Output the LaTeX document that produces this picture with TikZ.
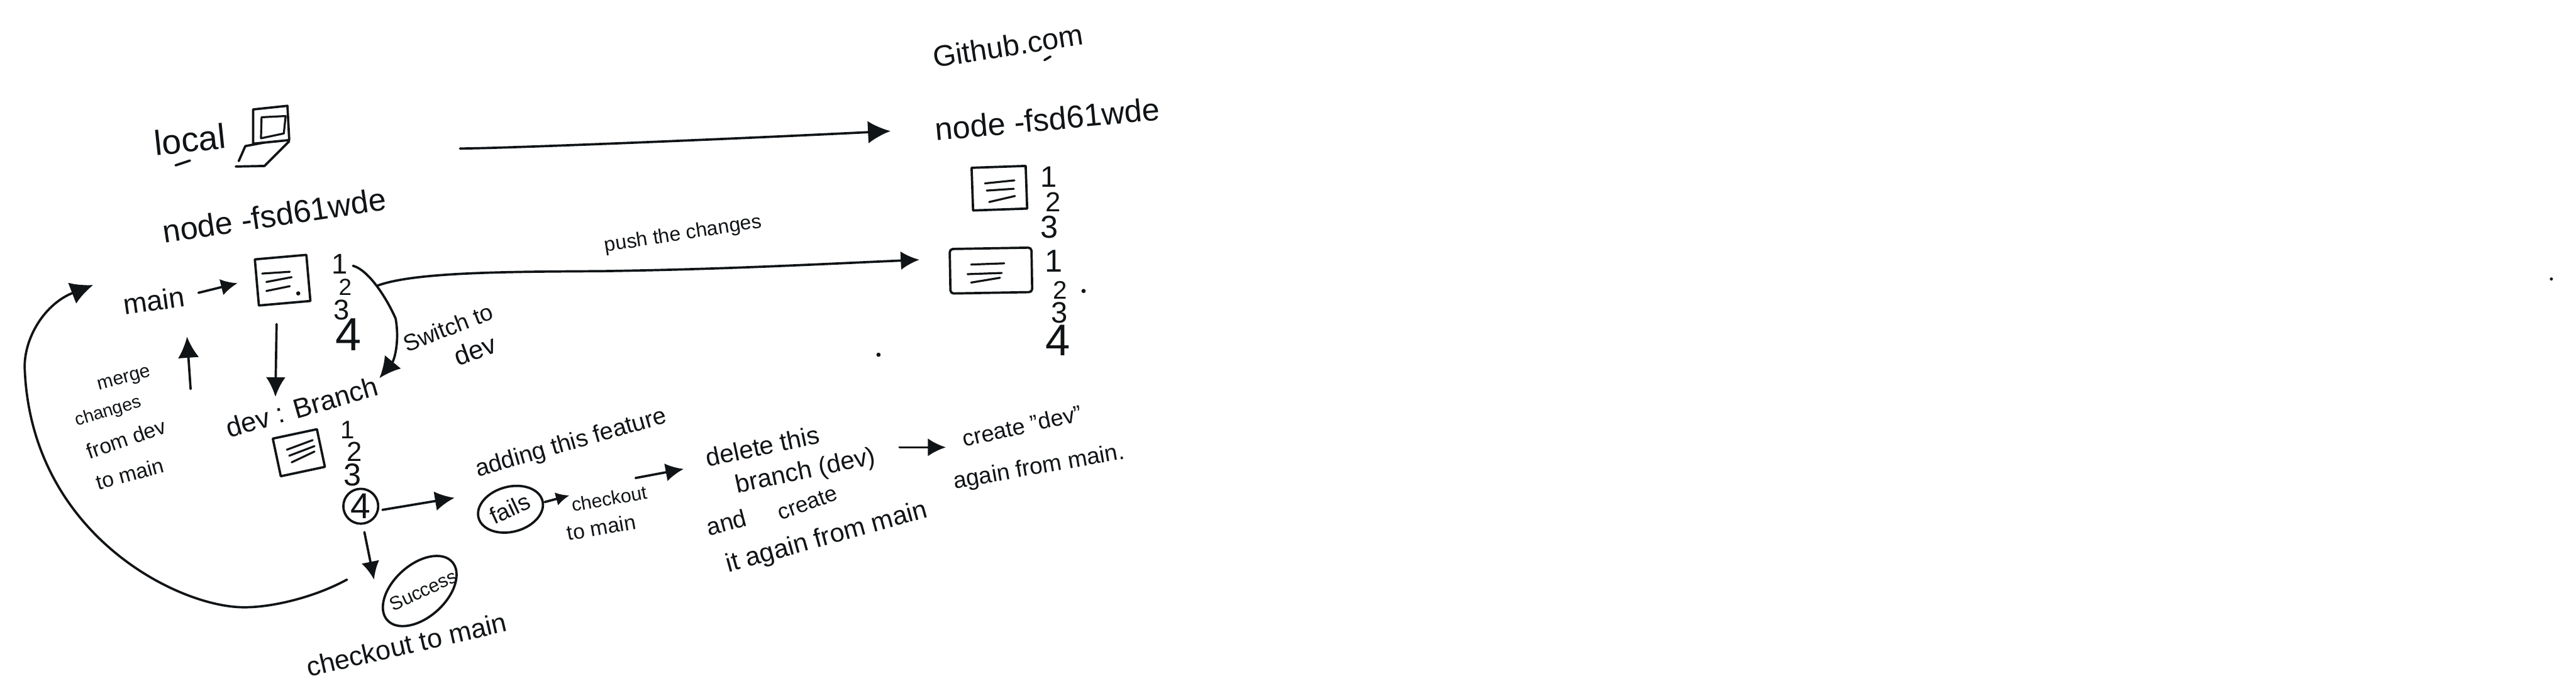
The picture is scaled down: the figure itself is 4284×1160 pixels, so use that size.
\documentclass[tikz,border=0pt]{standalone}
\usepackage{fontspec}
\setmainfont{Liberation Sans}
\usetikzlibrary{arrows.meta,shapes.geometric}
\definecolor{ink}{HTML}{111416}
\tikzset{
  ts/.style={inner sep=0pt,text=ink,font=\fontsize{#1}{#1}\selectfont},
  pen/.style={draw=ink,line width=2.2pt,line cap=round,line join=round},
  thin pen/.style={pen,line width=1.9pt},
  conn/.style={pen,-{Latex[length=#1,width=#1]}},
  conn/.default=0.6cm,
  docbox/.style={pen,rectangle,inner sep=0pt},
  oval/.style={pen,ellipse,inner sep=0pt},
  speck/.style={circle,fill=ink,inner sep=0pt,minimum size=4pt}
}
\begin{document}
\begin{tikzpicture}[x=0.02cm,y=-0.02cm]
\useasboundingbox (0,0) rectangle (4284,1160);
\fill[white] (0,0) rectangle (4284,1160);

% --- labels, left side
\node[ts=33,rotate=6] (local) at (316,232) {local};
\draw[pen] (292,275) -- (316,267);
\node[ts=30,rotate=8.6] (nodeL) at (456,358) {node -fsd61wde};
\node[ts=27,rotate=8] (main) at (256,500) {main};

% laptop
\draw[pen] (421,182) -- (478,176) -- (481,233) -- (421,239) -- cycle;
\draw[thin pen] (435,195) -- (475,193) -- (472,222) -- (434,230) -- cycle;
\draw[pen] (481,235) -- (440,276) -- (392,277);
\draw[pen] (408,243) -- (397,268);
\draw[pen] (408,243) -- (440,237);

% --- local main document
\node[docbox,minimum width=1.72cm,minimum height=1.54cm,rotate=5] (docA) at (470,466) {};
\draw[thin pen] (436,455) -- (482,452);
\draw[thin pen] (443,469) -- (485,461);
\draw[thin pen] (443,484) -- (482,476);
\node[speck] (specA) at (496,488) {};
\node[ts=27] (a1) at (565,439) {1};
\node[ts=22] (a2) at (574,478) {2};
\node[ts=27] (a3) at (568,516) {3};
\node[ts=44] (a4) at (579,556) {4};

% --- github side
\node[ts=28,rotate=8.9] (github) at (1676,76) {Github.com};
\draw[pen] (1737,100) -- (1747,94);
\node[ts=30,rotate=5.3] (nodeR) at (1742,198) {node -fsd61wde};
\node[docbox,minimum width=1.8cm,minimum height=1.42cm,rotate=2] (docB) at (1662,313) {};
\draw[thin pen] (1638,305) -- (1687,300);
\draw[thin pen] (1641,317) -- (1686,314);
\draw[thin pen] (1645,336) -- (1688,326);
\node[ts=28] (b1) at (1744,294) {1};
\node[ts=26] (b2) at (1751,336) {2};
\node[ts=30] (b3) at (1745,378) {3};
\node[docbox,minimum width=2.72cm,minimum height=1.48cm,rotate=1,rounded corners=3pt] (docC) at (1648,450) {};
\draw[thin pen] (1615,440) -- (1670,438);
\draw[thin pen] (1609,456) -- (1666,454);
\draw[thin pen] (1615,470) -- (1663,462);
\node[ts=30] (c1) at (1752,434) {1};
\node[ts=24] (c2) at (1763,483) {2};
\node[ts=28] (c3) at (1762,520) {3};
\node[ts=42] (c4) at (1759,566) {4};
\node[speck] (specC) at (1802,484) {};
\node[speck] (specD) at (1461,590) {};
\node[speck,minimum size=3pt] (specE) at (4243,464) {};
\node[ts=19,rotate=8.9] (pushL) at (1136,390) {push the changes};

% --- dev branch
\node[ts=26,rotate=16] (devL) at (502,677) {dev : Branch};
\node[docbox,minimum width=1.5cm,minimum height=1.28cm,rotate=12] (docD) at (497,753) {};
\draw[thin pen] (477,748) -- (520,732);
\draw[thin pen] (481,758) -- (523,742);
\draw[thin pen] (485,769) -- (523,751);
\node[ts=24] (d1) at (578,715) {1};
\node[ts=26] (d2) at (589,751) {2};
\node[ts=30] (d3) at (586,790) {3};
\node[pen,circle,minimum size=1.16cm,inner sep=0pt,ts=34] (d4) at (600,842) {4};

\node[ts=18,rotate=15] (m1) at (207,632) {merge};
\node[ts=17,rotate=17] (m2) at (180,685) {changes};
\node[ts=20,rotate=19] (m3) at (210,730) {from dev};
\node[ts=20,rotate=15] (m4) at (216,788) {to main};
\node[ts=22,rotate=21] (sw1) at (745,545) {Switch to};
\node[ts=25,rotate=20] (sw2) at (790,582) {dev};

% --- success / fails
\node[oval,minimum width=2.9cm,minimum height=1.75cm,rotate=42] (succ) at (698,983) {};
\node[ts=18,rotate=25] (succT) at (704,982) {Success};
\node[ts=25.6,rotate=13] (chk) at (676,1072) {checkout to main};
\node[ts=22.7,rotate=16] (add) at (950,738) {adding this feature};
\node[oval,minimum width=2.2cm,minimum height=1.5cm,rotate=15] (fails) at (849,847) {};
\node[ts=22,rotate=25] (failT) at (848,846) {fails};
\node[ts=18,rotate=10] (co1) at (1013,829) {checkout};
\node[ts=20,rotate=10] (co2) at (1000,877) {to main};

% --- text right
\node[ts=24,rotate=12] (del) at (1268,742) {delete this};
\node[ts=24,rotate=12] (bra) at (1340,785) {branch (dev)};
\node[ts=21,rotate=20] (cr) at (1343,837) {create};
\node[ts=23,rotate=15] (and) at (1208,869) {and};
\node[ts=24.7,rotate=15.5] (again) at (1375,895) {it again from main};
\node[ts=21.6,rotate=12.6] (cr2) at (1700,708) {create "dev"};
\node[ts=22,rotate=10] (again2) at (1728,778) {again from main.};

% --- free ends of connectors
\coordinate (topS) at (765,247);
\coordinate (topE) at (1481,218);
\coordinate (swS) at (587,442);
\coordinate (swE) at (631,629);
\coordinate (pushS) at (628,475);
\coordinate (pushE) at (1529,432);
\coordinate (mainS) at (330,487);
\coordinate (mainE) at (395,471);
\coordinate (upS) at (317,647);
\coordinate (upE) at (311,560);
\coordinate (downS) at (460,539);
\coordinate (downE) at (458,660);
\coordinate (loopS) at (577,964);
\coordinate (loopE) at (155,474);
\coordinate (fourR) at (636,848);
\coordinate (fourRE) at (756,828);
\coordinate (fourD) at (606,885);
\coordinate (fourDE) at (622,964);
\coordinate (failS) at (906,835);
\coordinate (failE) at (947,824);
\coordinate (cheS) at (1057,795);
\coordinate (cheE) at (1137,780);
\coordinate (delS) at (1496,744);
\coordinate (delE) at (1573,744);

% --- connectors
\draw[conn=0.75cm] (topS) .. controls (830,247) and (1200,232) .. (topE);
\draw[conn=0.62cm] (pushS) .. controls (690,452) and (850,452) .. (1000,451) .. controls (1200,448) and (1350,440) .. (pushE);
\draw[conn=0.7cm] (swS) .. controls (615,450) and (645,500) .. (658,530) .. controls (665,570) and (655,600) .. (swE);
\draw[conn=0.55cm] (mainS) -- (mainE);
\draw[conn=0.7cm] (upS) -- (upE);
\draw[conn=0.65cm] (downS) -- (downE);
\draw[conn=0.75cm] (loopS) .. controls (520,995) and (450,1010) .. (408,1010) .. controls (300,1012) and (50,890) .. (41,610) .. controls (41,560) and (75,505) .. (loopE);
\draw[conn=0.65cm] (fourR) -- (fourRE);
\draw[conn=0.6cm] (fourD) -- (fourDE);
\draw[conn=0.45cm] (failS) -- (failE);
\draw[conn=0.6cm] (cheS) -- (cheE);
\draw[conn=0.6cm] (delS) -- (delE);
\end{tikzpicture}
\end{document}
